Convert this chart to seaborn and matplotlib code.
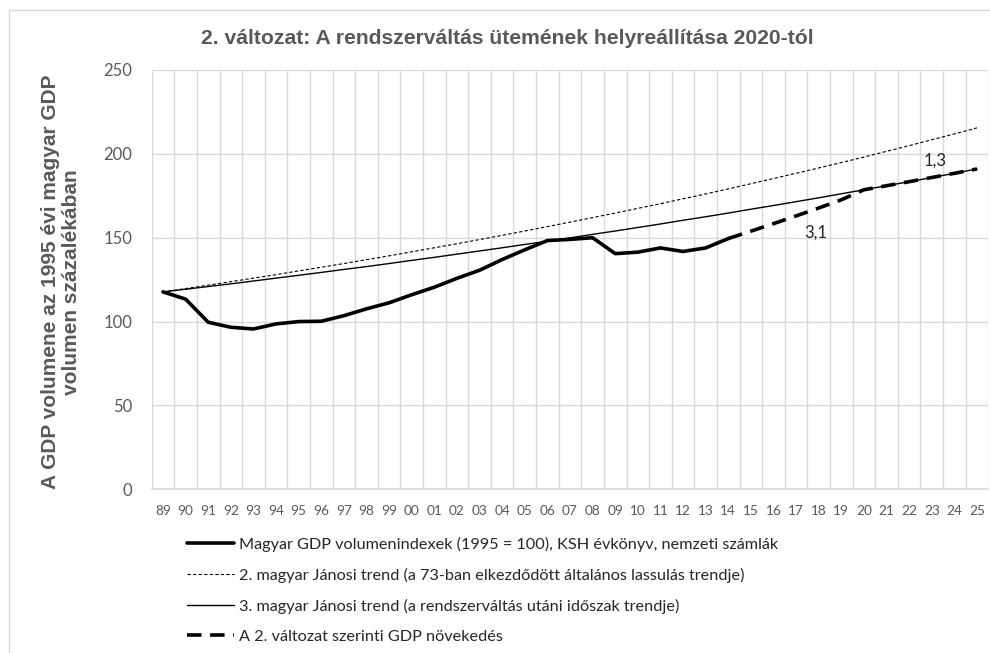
import numpy as np
import pandas as pd
import matplotlib
matplotlib.use("Agg")
import matplotlib.pyplot as plt
import matplotlib.patches as mpatches
import seaborn as sns

# ---- data ----
years = ["89", "90", "91", "92", "93", "94", "95", "96", "97", "98", "99", "00",
         "01", "02", "03", "04", "05", "06", "07", "08", "09", "10", "11", "12",
         "13", "14", "15", "16", "17", "18", "19", "20", "21", "22", "23", "24", "25"]

gdp_actual = [117.7, 113.4, 99.6, 96.6, 95.6, 98.6, 100.0, 100.2, 103.5, 107.6,
              111.2, 116.0, 120.5, 125.8, 130.6, 137.0, 142.8, 148.3, 149.0, 150.0,
              140.5, 141.4, 143.9, 141.8, 143.9, 149.5]

trend2 = [117.7, 119.7, 121.7, 123.8, 125.9, 128.0, 130.2, 132.4, 134.6, 136.9,
          139.2, 141.6, 144.0, 146.4, 148.9, 151.4, 154.0, 156.6, 159.3, 162.0,
          164.7, 167.5, 170.3, 173.2, 176.1, 179.1, 182.2, 185.3, 188.4, 191.6,
          194.8, 198.1, 201.5, 204.9, 208.4, 211.9, 215.5]

trend3 = [117.7, 119.3, 120.9, 122.5, 124.2, 125.9, 127.6, 129.3, 131.1, 132.8,
          134.6, 136.5, 138.3, 140.2, 142.1, 144.0, 146.0, 147.9, 149.9, 152.0,
          154.0, 156.1, 158.2, 160.4, 162.5, 164.7, 167.0, 169.2, 171.5, 173.8,
          176.2, 178.6, 181.0, 183.4, 185.9, 188.4, 191.0]

# 2. változat: from 2014 to 2025
variant2_years = ["14", "15", "16", "17", "18", "19", "20", "21", "22", "23", "24", "25"]
variant2 = [149.5, 153.9, 158.4, 163.0, 167.7, 172.6, 178.6, 181.0, 183.4, 185.9, 188.4, 191.0]

labels = [
    "Magyar GDP volumenindexek (1995 = 100), KSH évkönyv, nemzeti számlák",
    "2. magyar Jánosi trend (a 73-ban elkezdődött általános lassulás trendje)",
    "3. magyar Jánosi trend (a rendszerváltás utáni időszak trendje)",
    "A 2. változat szerinti GDP növekedés",
]
annotations = [("1,3", "23", 196.0), ("3,1", "18", 152.8)]

title = "2. változat: A rendszerváltás ütemének helyreállítása 2020-tól"
ylabel = "A GDP volumene az 1995 évi magyar GDP\nvolumen százalékában"

# ---- style ----
sns.set_theme(style="white")
plt.rcParams["font.family"] = ["Lato", "DejaVu Sans"]
GRAY = "#595959"
GRID = "#d9d9d9"
BOLD_FONT = ["Liberation Sans", "DejaVu Sans"]

pos = {y: i for i, y in enumerate(years)}
df_act = pd.DataFrame({"x": [pos[y] for y in years[:len(gdp_actual)]], "v": gdp_actual})
df_t2 = pd.DataFrame({"x": [pos[y] for y in years], "v": trend2})
df_t3 = pd.DataFrame({"x": [pos[y] for y in years], "v": trend3})
df_v2 = pd.DataFrame({"x": [pos[y] for y in variant2_years], "v": variant2})

fig = plt.figure(figsize=(9.9, 6.53), dpi=100)
ax = fig.add_axes([151.7 / 990, 1 - 489.3 / 653, (988.3 - 151.7) / 990, (489.3 - 70) / 653])

sns.lineplot(data=df_act, x="x", y="v", ax=ax, color="black", lw=2.6, label=labels[0])
sns.lineplot(data=df_t2, x="x", y="v", ax=ax, color="black", lw=0.8,
             linestyle=(0, (3, 2)), label=labels[1])
sns.lineplot(data=df_t3, x="x", y="v", ax=ax, color="black", lw=1.0, label=labels[2])
sns.lineplot(data=df_v2, x="x", y="v", ax=ax, color="black", lw=2.6,
             linestyle=(0, (4, 2.4)), label=labels[3])

ax.set_xlim(-0.5, len(years) - 0.5)
ax.set_ylim(0, 250)
ax.set_yticks(range(0, 251, 50))
ax.set_xticks(range(len(years)))
ax.set_xticklabels(years)
ax.set_xticks(np.arange(-0.5, len(years), 1), minor=True)
ax.grid(False)
ax.grid(which="minor", axis="x", color=GRID, lw=1.0)
ax.grid(which="major", axis="y", color=GRID, lw=1.0)
ax.tick_params(axis="x", which="both", length=0, pad=11, labelsize=9.8, labelcolor=GRAY)
ax.tick_params(axis="y", length=0, pad=14, labelsize=12, labelcolor=GRAY)
ax.set_xlabel("")
ax.set_ylabel("")
for s in ax.spines.values():
    s.set_visible(False)
ax.spines["bottom"].set_visible(True)
ax.spines["bottom"].set_color(GRID)

for txt, yr, val in annotations:
    ax.text(pos[yr] + 0.14 if txt == "1,3" else pos[yr] - 0.12, val, txt,
            ha="center", va="center", fontsize=12, color="#262626")

ax.get_legend().remove()
h, l = ax.get_legend_handles_labels()
fig.legend(h, l, loc="upper left", bbox_to_anchor=(187 / 990, 1 - 537 / 653),
           frameon=False, fontsize=11.7, handlelength=2.9, handletextpad=0.3,
           labelspacing=0.97, labelcolor="#262626", borderaxespad=0, borderpad=0)

fig.text(507 / 990, 1 - 38 / 653, title, ha="center", va="center",
         fontsize=15.2, fontweight="bold", color=GRAY, family=BOLD_FONT)
fig.text(61 / 990, 1 - 282 / 653, ylabel, ha="center", va="center", rotation=90,
         fontsize=15.0, fontweight="bold", color=GRAY, linespacing=1.18, family=BOLD_FONT)

fig.patches.append(mpatches.Rectangle((8.5 / 990, -0.1), 2.0, 1 - 10 / 653 + 0.1,
                                      transform=fig.transFigure, fill=False,
                                      edgecolor=GRID, lw=1.0))

fig.savefig("out.png", dpi=100)
